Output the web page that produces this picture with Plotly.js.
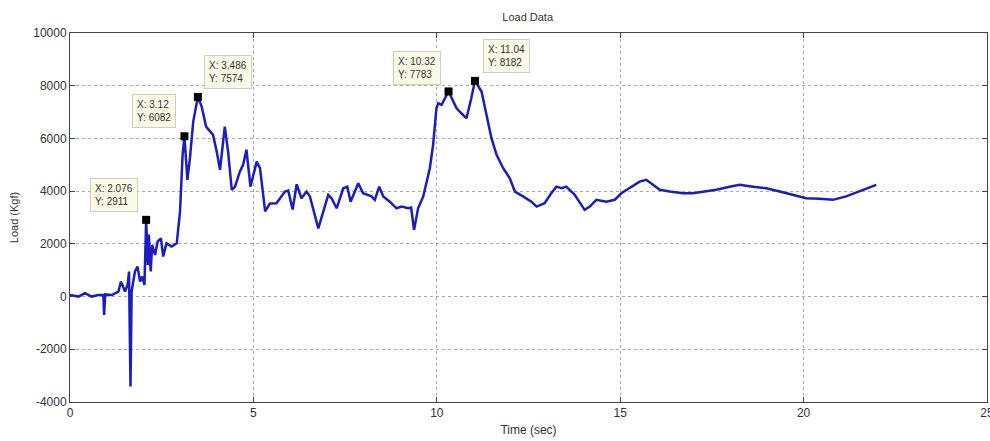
<!DOCTYPE html>
<html>
<head>
<meta charset="utf-8">
<script src="https://cdn.plot.ly/plotly-3.0.1.min.js"></script>
<style>html,body{margin:0;padding:0;background:#fff;}#chart{width:990px;height:441px;}</style>
</head>
<body>
<div id="chart"></div>
<script>
const timeSec = [0, 0.23, 0.41, 0.59, 0.77, 0.91, 0.93, 0.96, 1.14, 1.32,
  1.39, 1.5, 1.57, 1.61, 1.63, 1.65, 1.68, 1.73, 1.77, 1.84,
  1.91, 1.97, 2.03, 2.076, 2.12, 2.15, 2.2, 2.24, 2.32, 2.39,
  2.48, 2.54, 2.63, 2.77, 2.91, 3.0, 3.07, 3.12, 3.2, 3.27,
  3.36, 3.486, 3.59, 3.71, 3.81, 3.9, 4.0, 4.09, 4.22, 4.31,
  4.41, 4.5, 4.63, 4.72, 4.81, 4.92, 5.09, 5.18, 5.32, 5.45,
  5.63, 5.86, 5.95, 6.07, 6.18, 6.31, 6.45, 6.54, 6.77, 6.9,
  7.04, 7.13, 7.27, 7.45, 7.56, 7.65, 7.86, 7.99, 8.22, 8.31,
  8.43, 8.54, 8.72, 8.9, 9.04, 9.22, 9.3, 9.38, 9.49, 9.63,
  9.72, 9.81, 9.9, 9.99, 10.04, 10.13, 10.32, 10.54, 10.67, 10.81,
  10.94, 11.04, 11.22, 11.35, 11.49, 11.63, 11.81, 11.99, 12.13, 12.35,
  12.58, 12.72, 12.94, 13.12, 13.26, 13.4, 13.53, 13.76, 14.03, 14.17,
  14.35, 14.62, 14.85, 15.03, 15.26, 15.53, 15.71, 15.89, 16.08, 16.35,
  16.71, 16.98, 17.26, 17.62, 17.98, 18.26, 18.62, 18.98, 19.35, 19.71,
  20.07, 20.44, 20.8, 21.16, 21.53, 21.98];
const loadKgf = [60, 0, 130, 0, 60, 60, -700, 80, 60, 190,
  570, 190, 440, 950, -1390, -3415, 190, 700, 950, 1140,
  570, 760, 440, 2911, 1200, 2350, 950, 1960, 1580, 2090,
  2210, 1520, 2020, 1900, 2020, 3230, 5380, 6082, 4430, 5250,
  6640, 7574, 7210, 6450, 6260, 6135, 5500, 4810, 6450, 5500,
  4050, 4170, 4740, 5000, 5570, 4170, 5120, 4870, 3230, 3530,
  3540, 3985, 4020, 3300, 4260, 3730, 3985, 3800, 2590, 3230,
  3860, 3730, 3350, 4110, 4170, 3600, 4300, 3920, 3800, 3670,
  4170, 3800, 3600, 3350, 3415, 3350, 3380, 2530, 3350, 3800,
  4360, 4870, 5760, 7145, 7335, 7275, 7783, 7145, 6955, 6765,
  7525, 8182, 7780, 6895, 6010, 5375, 4870, 4490, 3985, 3800,
  3600, 3415, 3540, 3920, 4170, 4110, 4170, 3860, 3290, 3415,
  3670, 3600, 3670, 3920, 4110, 4360, 4430, 4240, 4050, 3985,
  3920, 3920, 3985, 4050, 4170, 4240, 4170, 4110, 3985, 3860,
  3730, 3710, 3670, 3800, 3985, 4240];

const tipX = [2.076, 3.12, 3.486, 10.32, 11.04];
const tipY = [2911, 6082, 7574, 7783, 8182];
const tipLabelX = ["2.076", "3.12", "3.486", "10.32", "11.04"];
const tipLabelY = ["2911", "6082", "7574", "7783", "8182"];
const tipShiftX = [-32, -30, 30, -32, 32];
const tipShiftY = [25, 25, 25, 23, 25];

const xTicks = [0, 5, 10, 15, 20, 25];
const yTicks = [-4000, -2000, 0, 2000, 4000, 6000, 8000, 10000];

const font = "Liberation Sans, Arial, sans-serif";

const traces = [
  {x: timeSec, y: loadKgf, type: "scatter", mode: "lines",
   line: {color: "#1c1cc0", width: 2.5}, hoverinfo: "skip"},
  {x: tipX, y: tipY, type: "scatter", mode: "markers",
   marker: {symbol: "square", size: 8, color: "#000"}, hoverinfo: "skip"}
];

const annotations = tipX.map((x, i) => ({
  x: x, y: tipY[i], xref: "x", yref: "y", showarrow: false,
  xshift: tipShiftX[i], yshift: tipShiftY[i],
  text: "X: " + tipLabelX[i] + "<br>Y: " + tipLabelY[i],
  align: "left", font: {family: font, size: 10, color: "#333"},
  bgcolor: "#fafae6", bordercolor: "#cfcfbf", borderwidth: 1, borderpad: 4
}));

const axisCommon = {
  showline: true, linecolor: "#444", linewidth: 1, mirror: "allticks",
  ticks: "inside", ticklen: 5, tickcolor: "#444",
  showgrid: true, gridcolor: "#aaa", griddash: "dot", gridwidth: 1,
  zeroline: false, tickfont: {family: font, size: 12, color: "#333"},
  ticklabeloverflow: "allow"
};

const layout = {
  width: 990, height: 441,
  margin: {l: 70, r: 3, t: 33, b: 39},
  paper_bgcolor: "#fff", plot_bgcolor: "#fff",
  showlegend: false,
  title: {text: "Load Data", font: {family: font, size: 11, color: "#333"}, x: 0.533, xanchor: "center", y: 0.961, yanchor: "middle", yref: "container"},
  xaxis: Object.assign({}, axisCommon, {range: [0, 25], tickvals: xTicks, ticktext: xTicks.map(String),
    title: {text: "Time (sec)", font: {family: font, size: 12, color: "#333"}, standoff: 6}}),
  yaxis: Object.assign({}, axisCommon, {range: [-4000, 10000], tickvals: yTicks, ticktext: yTicks.map(String),
    title: {text: "Load (Kgf)", font: {family: font, size: 11, color: "#333"}, standoff: 12}}),
  annotations: annotations
};

Plotly.newPlot("chart", traces, layout, {displayModeBar: false, staticPlot: true});
</script>
</body>
</html>
